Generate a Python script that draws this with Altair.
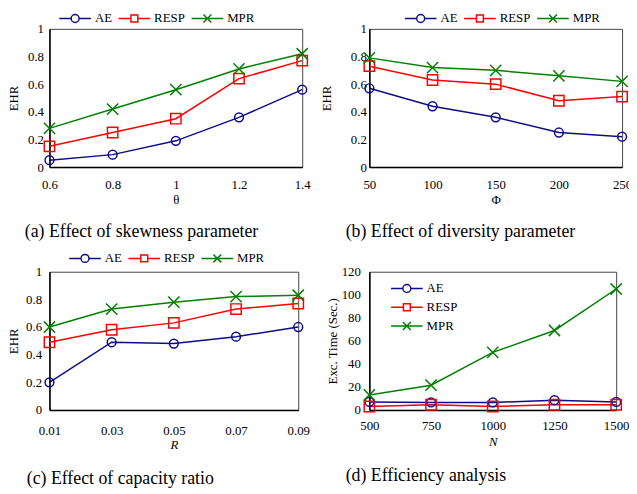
import altair as alt
import pandas as pd

FONT = "Liberation Serif"
series = ["AE", "RESP", "MPR"]
colors = ["#0C0C8A", "#FF0000", "#008000"]

theta = [0.6, 0.8, 1.0, 1.2, 1.4]
a_ae = [0.05, 0.09, 0.19, 0.36, 0.56]
a_resp = [0.15, 0.25, 0.35, 0.64, 0.77]
a_mpr = [0.28, 0.42, 0.56, 0.71, 0.82]

phi = [50, 100, 150, 200, 250]
b_ae = [0.57, 0.44, 0.36, 0.25, 0.22]
b_resp = [0.73, 0.63, 0.60, 0.48, 0.51]
b_mpr = [0.79, 0.72, 0.70, 0.66, 0.62]

ratio = [0.01, 0.03, 0.05, 0.07, 0.09]
c_ae = [0.20, 0.49, 0.48, 0.53, 0.60]
c_resp = [0.49, 0.58, 0.63, 0.73, 0.77]
c_mpr = [0.60, 0.73, 0.78, 0.82, 0.83]

nodes = [500, 750, 1000, 1250, 1500]
d_ae = [7, 6.5, 6.5, 8.5, 7]
d_resp = [3, 4.5, 3, 4.5, 4.5]
d_mpr = [13, 21.5, 50, 69, 105]

ehr_ticks = [0, 0.2, 0.4, 0.6, 0.8, 1.0]
time_ticks = [0, 20, 40, 60, 80, 100, 120]

# marker shapes
X_PATH = "M-1,-1L1,1M-1,1L1,-1"
markers = {"AE": ("circle", 80), "RESP": ("square", 110), "MPR": (X_PATH, 130)}

# legend symbols: line with marker (unit = 6px)
L_AE = "M-2.67,0L-0.67,0M0.67,0L2.67,0M-0.67,0A0.67,0.67,0,1,1,0.67,0A0.67,0.67,0,1,1,-0.67,0Z"
L_RESP = "M-2.67,0L-0.58,0M0.58,0L2.67,0M-0.58,-0.58L0.58,-0.58L0.58,0.58L-0.58,0.58Z"
L_MPR = "M-2.67,0L2.67,0M-0.67,-0.67L0.67,0.67M-0.67,0.67L0.67,-0.67"


def make_legend(x, y, direction):
    return alt.Legend(
        title=None,
        orient="none",
        legendX=x,
        legendY=y,
        direction=direction,
        columns=3 if direction == "horizontal" else 1,
        padding=0,
        symbolSize=144,
        symbolOffset=9,
        symbolStrokeWidth=1.5,
        symbolFillColor="transparent",
        symbolOpacity=1,
        labelOffset=13,
        columnPadding=2,
        rowPadding=4,
        labelFont=FONT,
        labelFontSize=13,
        labelColor="black",
    )


def panel(xs, ys, xtitle, ytitle, yticks, caption, width, legend, xlab_pad, xtitle_pad,
          ylab_pad, ytitle_pad, italic=False, cap_dx=-25, cap_off=17):
    rows = []
    for name, vals in zip(series, ys):
        for xv, yv in zip(xs, vals):
            rows.append({"x": xv, "y": yv, "s": name})
    df = pd.DataFrame(rows)
    xenc = alt.X(
        "x:Q",
        scale=alt.Scale(domain=[xs[0], xs[-1]], nice=False, zero=False),
        axis=alt.Axis(values=xs, format=".4~r", title=xtitle, labelPadding=xlab_pad,
                      labelFlush=False, titlePadding=xtitle_pad,
                      titleFontStyle="italic" if italic else "normal"),
    )
    yenc = alt.Y(
        "y:Q",
        scale=alt.Scale(domain=[yticks[0], yticks[-1]], nice=False),
        axis=alt.Axis(values=yticks, format=".4~r", title=ytitle, labelPadding=ylab_pad,
                      titlePadding=ytitle_pad),
    )
    base = alt.Chart(df)
    layers = []
    for name, col in zip(series, colors):
        sub = base.transform_filter(alt.datum.s == name)
        layers.append(sub.mark_line(strokeWidth=1.5, color=col).encode(x=xenc, y=yenc))
    for name, col in zip(series, colors):
        shp, sz = markers[name]
        layers.append(
            base.transform_filter(alt.datum.s == name)
            .mark_point(shape=shp, size=sz, color=col, filled=False, strokeWidth=1.5, opacity=1)
            .encode(x=xenc, y=yenc)
        )
    # legend-only layer (draws no marks)
    layers.append(
        base.transform_filter("false")
        .mark_point(filled=False, size=144, strokeWidth=1.5, opacity=1)
        .encode(
            x=xenc, y=yenc,
            color=alt.Color("s:N", scale=alt.Scale(domain=series, range=colors), legend=legend),
            shape=alt.Shape("s:N", scale=alt.Scale(domain=series, range=[L_AE, L_RESP, L_MPR]),
                            legend=legend),
        )
    )
    return alt.layer(*layers).properties(
        width=width,
        height=140,
        title=alt.TitleParams(caption, orient="bottom", anchor="start", frame="group",
                              dx=cap_dx, offset=cap_off, fontSize=18, font=FONT,
                              fontWeight="normal", color="black"),
    )


pa = panel(theta, [a_ae, a_resp, a_mpr], "θ", "EHR", ehr_ticks,
           "(a) Effect of skewness parameter", 256, make_legend(10, -18, "horizontal"),
           12, 2, 6, 7)
pb = panel(phi, [b_ae, b_resp, b_mpr], "Φ", "EHR", ehr_ticks,
           "(b) Effect of diversity parameter", 256, make_legend(36, -18, "horizontal"),
           12, 2, 3, 17, cap_dx=-24)
pc = panel(ratio, [c_ae, c_resp, c_mpr], "R", "EHR", ehr_ticks,
           "(c) Effect of capacity ratio", 252, make_legend(20, -21, "horizontal"),
           15, 1, 8, 5, italic=True, cap_dx=-23, cap_off=19)
pd_ = panel(nodes, [d_ae, d_resp, d_mpr], "N", "Exc. Time (Sec.)", time_ticks,
            "(d) Efficiency analysis", 250, make_legend(22, 10, "vertical"),
            10, 3, 9, 2, italic=True, cap_dx=-24, cap_off=19)

chart = (
    alt.concat(pa, pb, pc, pd_, columns=2, spacing={"row": 106, "column": 68}, bounds="flush")
    .resolve_scale(color="independent", shape="independent")
    .properties(
        autosize=alt.AutoSizeParams(type="none"),
        padding={"left": 42, "top": 18, "right": 587, "bottom": 468},
        background="white",
    )
    .configure_axis(
        labelFont=FONT, titleFont=FONT, labelFontSize=13, titleFontSize=13,
        titleFontWeight="normal", labelColor="black", titleColor="black",
        domainColor="black", domainWidth=1.5, ticks=False, tickSize=0, grid=False,
    )
    .configure_view(stroke="#444444", strokeWidth=1)
)

chart.save("out.html", embed_options={"renderer": "svg", "actions": False})
